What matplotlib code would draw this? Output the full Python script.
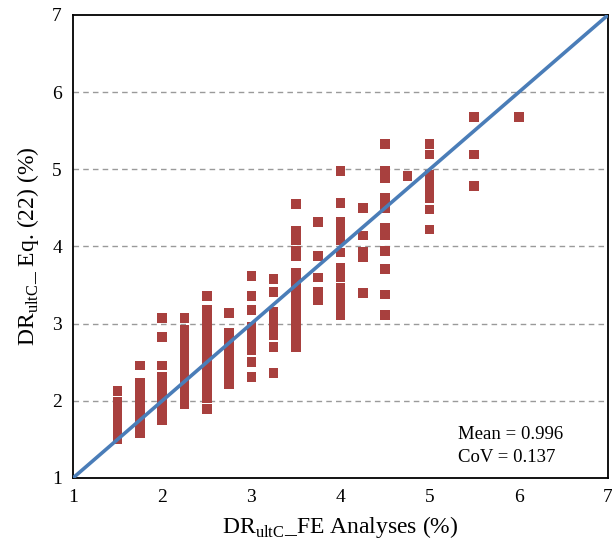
import numpy as np
import matplotlib.pyplot as plt

plt.rcParams['font.family'] = 'serif'
plt.rcParams['font.serif'] = ['Liberation Serif', 'DejaVu Serif']
plt.rcParams['mathtext.fontset'] = 'custom'
plt.rcParams['mathtext.rm'] = 'Liberation Serif'

# DR_ultC from FE analyses (x) and from Eq. (22) (y), grouped by FE value
fe_levels = [1.5, 1.75, 2.0, 2.25, 2.5, 2.75, 3.0, 3.25, 3.5, 3.75,
             4.0, 4.25, 4.5, 4.75, 5.0, 5.5, 6.0]
eq22 = [
    [2.13, 1.99, 1.95, 1.90, 1.86, 1.82, 1.78, 1.74, 1.70, 1.66, 1.62, 1.58, 1.54, 1.50],
    [2.46, 2.23, 2.18, 2.12, 2.06, 2.00, 1.95, 1.90, 1.85, 1.80, 1.74, 1.68, 1.62, 1.58],
    [3.07, 2.83, 2.46, 2.31, 2.26, 2.20, 2.15, 2.10, 2.05, 2.00, 1.95, 1.90, 1.85, 1.80, 1.75],
    [3.07, 2.92, 2.87, 2.82, 2.76, 2.70, 2.65, 2.60, 2.55, 2.50, 2.45, 2.40, 2.35, 2.30,
     2.25, 2.20, 2.15, 2.10, 2.05, 2.00, 1.96],
    [3.36, 3.18, 3.12, 3.06, 3.00, 2.94, 2.88, 2.82, 2.76, 2.70, 2.64, 2.58, 2.52, 2.46,
     2.40, 2.34, 2.28, 2.22, 2.16, 2.10, 2.04, 1.89],
    [3.14, 2.88, 2.82, 2.76, 2.70, 2.64, 2.58, 2.52, 2.46, 2.40, 2.34, 2.28, 2.22],
    [3.62, 3.36, 3.18, 2.96, 2.90, 2.84, 2.78, 2.72, 2.66, 2.50, 2.31],
    [3.58, 3.41, 3.15, 3.09, 3.03, 2.97, 2.91, 2.85, 2.70, 2.36],
    [4.55, 4.20, 4.14, 4.08, 3.95, 3.87, 3.66, 3.60, 3.54, 3.48, 3.42, 3.36, 3.24, 3.18,
     3.12, 3.06, 3.00, 2.94, 2.88, 2.83, 2.70],
    [4.32, 3.88, 3.60, 3.41, 3.36, 3.30],
    [4.98, 4.56, 4.32, 4.26, 4.20, 4.14, 4.08, 3.92, 3.72, 3.66, 3.60, 3.47, 3.41, 3.35,
     3.29, 3.23, 3.17, 3.11],
    [4.50, 4.14, 3.93, 3.86, 3.40],
    [5.33, 4.98, 4.92, 4.88, 4.63, 4.56, 4.49, 4.24, 4.14, 3.94, 3.71, 3.38, 3.11],
    [4.91],
    [5.33, 5.19, 4.93, 4.87, 4.81, 4.76, 4.63, 4.48, 4.22],
    [5.68, 5.19, 4.78],
    [5.68],
]
mean_txt = 'Mean = 0.996'
cov_txt = 'CoV = 0.137'

x = np.concatenate([[fe] * len(v) for fe, v in zip(fe_levels, eq22)])
y = np.concatenate(eq22)

fig = plt.figure(figsize=(6.12, 5.39), dpi=100)
ax = fig.add_axes([0.1193, 0.1132, 0.8742, 0.859])

for g in [2, 3, 4, 5, 6]:
    ax.axhline(g, color='#9a9a9a', ls=(0, (4, 3)), lw=1.0, zorder=1)

ax.scatter(x, y, marker='s', s=48, color='#A8403E', edgecolors='none', zorder=2)
ax.plot([1, 7], [1, 7], color='#4A7DB8', lw=2.6, zorder=3)

ax.set_xlim(1, 7)
ax.set_ylim(1, 7)
ax.set_xticks(range(1, 8))
ax.set_yticks(range(1, 8))
ax.tick_params(length=0, labelsize=14, pad=8)
for s in ax.spines.values():
    s.set_linewidth(1.3)
    s.set_color('black')

ax.set_xlabel(r'DR$_\mathregular{ultC}$_FE Analyses (%)', fontsize=17, labelpad=6)
ax.set_ylabel(r'DR$_\mathregular{ultC}$_ Eq. (22) (%)', fontsize=17, labelpad=8)

ax.text(5.32, 1.56, mean_txt, fontsize=13.5, va='center')
ax.text(5.32, 1.27, cov_txt, fontsize=13.5, va='center')

fig.savefig('out.png', dpi=100)
